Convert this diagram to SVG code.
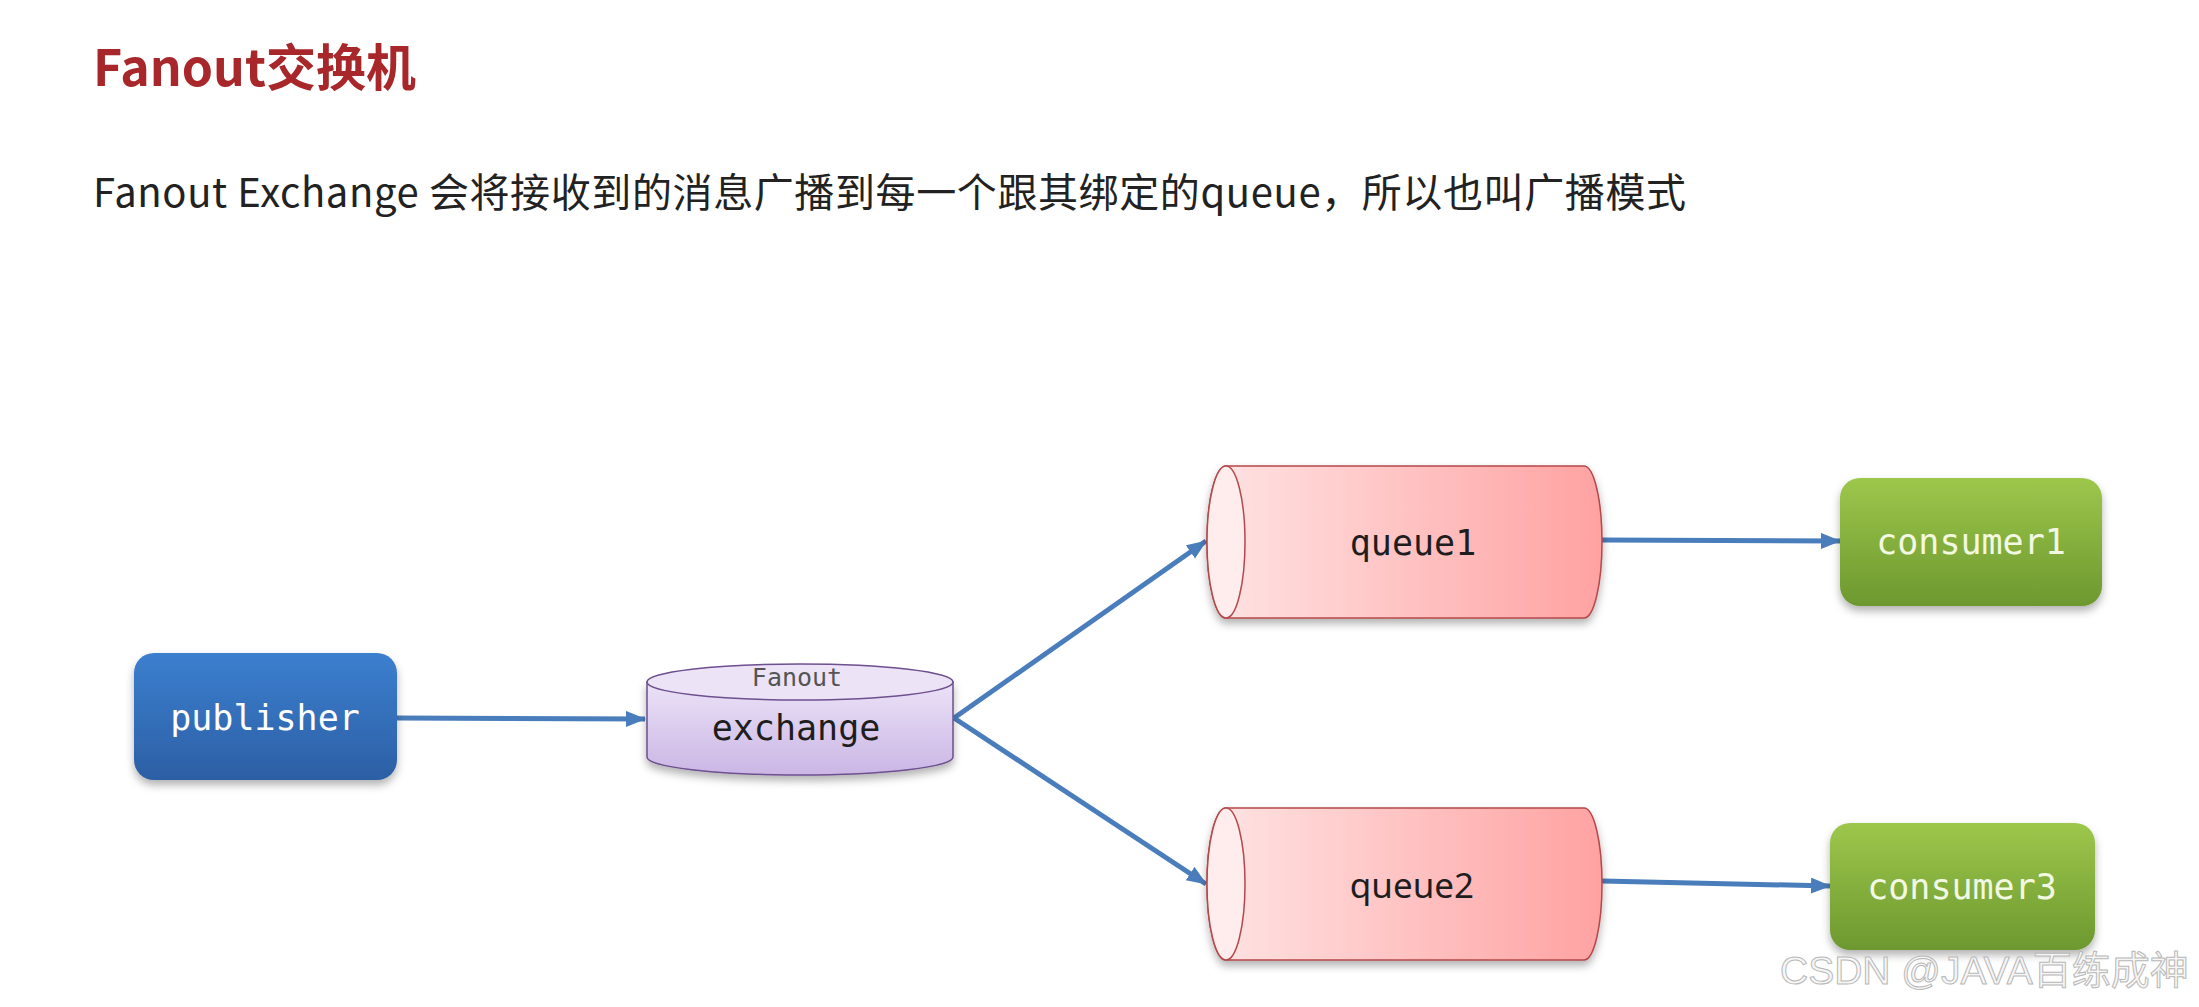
<svg xmlns="http://www.w3.org/2000/svg" width="2199" height="1007" viewBox="0 0 2199 1007">
  <defs>
    <style>
      .title { font-family: "Noto Sans CJK SC", "Noto Sans", sans-serif; font-weight: bold; font-size: 50px; fill: #a8272a; }
      .sub { font-family: "Noto Sans CJK SC", "Noto Sans", sans-serif; font-size: 40px; fill: #222; }
      .mono { font-family: "DejaVu Sans Mono", "Liberation Mono", monospace; font-size: 35px; text-anchor: middle; }
      .sans { font-family: "Noto Sans", "DejaVu Sans", sans-serif; font-size: 35px; text-anchor: middle; }
      .light { fill: #ffffff; }
      .green-t { fill: #f2f8e2; }
      .dark { fill: #1e1e1e; }
      .conn { stroke: #4a7dbb; stroke-width: 5; fill: none; marker-end: url(#ah); }
      .queue { stroke: #b5484a; stroke-width: 1.5; }
      .wm { font-family: "Liberation Sans", "Noto Sans CJK SC", sans-serif; font-size: 39px; fill: #f6f6f6; stroke: #b8b8b8; stroke-width: 1; }
    </style>
    <linearGradient id="gBlue" x1="0" y1="0" x2="0" y2="1">
      <stop offset="0" stop-color="#3c7fcf"/>
      <stop offset="1" stop-color="#2c5fa5"/>
    </linearGradient>
    <linearGradient id="gGreen" x1="0" y1="0" x2="0" y2="1">
      <stop offset="0" stop-color="#9dc74b"/>
      <stop offset="1" stop-color="#6d982f"/>
    </linearGradient>
    <linearGradient id="gRed" x1="0" y1="0" x2="1" y2="0">
      <stop offset="0" stop-color="#ffe4e4"/>
      <stop offset="1" stop-color="#ffa2a2"/>
    </linearGradient>
    <linearGradient id="gPurple" x1="0" y1="0" x2="0" y2="1">
      <stop offset="0" stop-color="#ebe2f7"/>
      <stop offset="1" stop-color="#cbb6e5"/>
    </linearGradient>
    <filter id="shadow" x="-10%" y="-10%" width="120%" height="135%">
      <feDropShadow dx="0" dy="5" stdDeviation="4" flood-color="#000" flood-opacity="0.3"/>
    </filter>
    <marker id="ah" markerUnits="userSpaceOnUse" markerWidth="22" markerHeight="18" refX="19" refY="8" orient="auto">
      <path d="M0,0 L20,8 L0,16 Z" fill="#4a7dbb"/>
    </marker>
  </defs>

  <rect width="2199" height="1007" fill="#ffffff"/>

  <text class="title" x="93" y="86">Fanout交换机</text>
  <text class="sub" x="93" y="207" textLength="1593" lengthAdjust="spacing">Fanout Exchange 会将接收到的消息广播到每一个跟其绑定的queue，所以也叫广播模式</text>

  <g id="connectors">
    <line class="conn" x1="397" y1="718" x2="645" y2="719"/>
    <line class="conn" x1="954" y1="718" x2="1206" y2="541"/>
    <line class="conn" x1="954" y1="718" x2="1206" y2="884"/>
    <line class="conn" x1="1602" y1="540" x2="1840" y2="541"/>
    <line class="conn" x1="1602" y1="881" x2="1830" y2="886"/>
  </g>

  <g id="publisher">
    <rect x="134" y="653" width="263" height="127" rx="20" fill="url(#gBlue)" filter="url(#shadow)"/>
    <text class="mono light" x="265" y="730">publisher</text>
  </g>

  <g id="exchange">
    <path d="M647,682 L647,757 A153,18 0 0 0 953,757 L953,682 Z" fill="url(#gPurple)" stroke="#6e4f8f" stroke-width="1.5" filter="url(#shadow)"/>
    <ellipse cx="800" cy="682" rx="153" ry="18" fill="#ece4f6" stroke="#6e4f8f" stroke-width="1.5"/>
    <text x="797" y="686" style="font-family: 'DejaVu Sans Mono', 'Liberation Mono', monospace; font-size: 25px; text-anchor: middle; fill: #555;">Fanout</text>
    <text class="mono dark" x="796" y="740">exchange</text>
  </g>

  <g id="queue1">
    <path class="queue" d="M1226,466 L1584,466 A18,76 0 0 1 1584,618 L1226,618 A19,76 0 0 1 1226,466 Z" fill="url(#gRed)" filter="url(#shadow)"/>
    <ellipse class="queue" cx="1226" cy="542" rx="19" ry="76" fill="#ffeded"/>
    <text class="mono dark" x="1413" y="555">queue1</text>
  </g>

  <g id="queue2">
    <path class="queue" d="M1226,808 L1584,808 A18,76 0 0 1 1584,960 L1226,960 A19,76 0 0 1 1226,808 Z" fill="url(#gRed)" filter="url(#shadow)"/>
    <ellipse class="queue" cx="1226" cy="884" rx="19" ry="76" fill="#ffeded"/>
    <text class="sans dark" x="1412" y="898">queue2</text>
  </g>

  <g id="consumer1">
    <rect x="1840" y="478" width="262" height="128" rx="20" fill="url(#gGreen)" filter="url(#shadow)"/>
    <text class="mono green-t" x="1971" y="554">consumer1</text>
  </g>

  <g id="consumer3">
    <rect x="1830" y="823" width="265" height="127" rx="20" fill="url(#gGreen)" filter="url(#shadow)"/>
    <text class="mono green-t" x="1962" y="899">consumer3</text>
  </g>

  <text class="wm" x="1780" y="984">CSDN @JAVA百练成神</text>
</svg>
